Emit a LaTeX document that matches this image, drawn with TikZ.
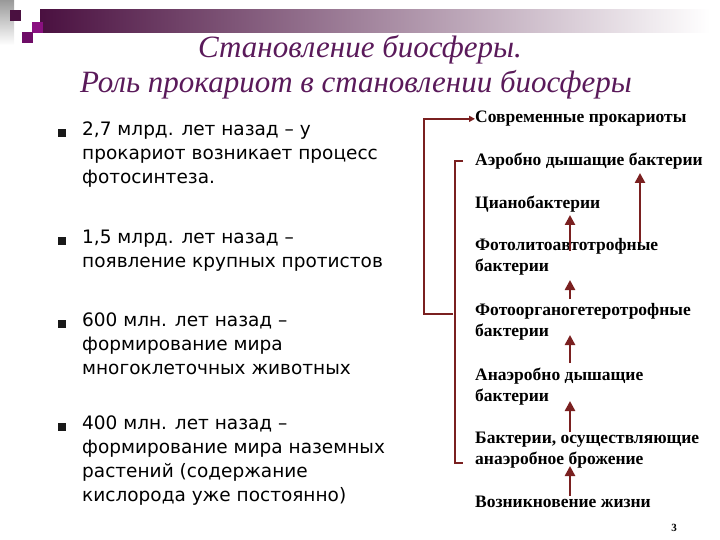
\documentclass[tikz,border=0pt]{standalone}
\usepackage{fontspec}
\setmainfont{Liberation Serif}
\newfontfamily\bodyf{DejaVu Sans}
\usetikzlibrary{arrows.meta}
\definecolor{ttl}{HTML}{5A1A5A}
\definecolor{arr}{HTML}{7A2020}
\definecolor{barc}{HTML}{4A1040}
\definecolor{mag}{HTML}{8A1080}
\begin{document}
\begin{tikzpicture}[x=1pt,y=-1pt,
  body/.style={anchor=north west,align=left,font=\bodyf\fontsize{18.5}{24}\selectfont,inner sep=0},
  bul/.style={anchor=center,fill=black!90,minimum size=8pt,inner sep=0},
  rt/.style={anchor=north west,align=left,font=\bfseries\fontsize{17.5}{21}\selectfont,inner sep=0},
  ar/.style={arr,line width=2.6pt,-{Triangle[length=10pt,width=10pt]}},
  br/.style={arr,line width=1.4pt}]
\useasboundingbox (0,0) rectangle (720,540);
% decoration
\shade[left color=barc,right color=white] (40,10) rectangle (710,33);
\shade[top color=black!40,bottom color=white] (0,0) rectangle (14,45);
\fill[barc] (10,10) rectangle (21,21);
\fill[mag] (32,22) rectangle (43,33);
\fill[mag!80!black] (22,32) rectangle (33,43);
% title
\node[font=\itshape\fontsize{31}{36}\selectfont,text=ttl] (t1) at (360,50) {Становление биосферы.};
\node[font=\itshape\fontsize{31}{36}\selectfont,text=ttl] (t2) at (356,85) {Роль прокариот в становлении биосферы};
% bullets
\node[bul] (b1) at (62,133) {};
\node[bul] (b2) at (62,241) {};
\node[bul] (b3) at (62,324) {};
\node[bul] (b4) at (62,427) {};
\node[body] (p1) at (82,122) {2,7 млрд. лет назад – у\\прокариот возникает процесс\\фотосинтеза.};
\node[body] (p2) at (82,230) {1,5 млрд. лет назад –\\появление крупных протистов};
\node[body] (p3) at (82,313) {600 млн. лет назад –\\формирование мира\\многоклеточных животных};
\node[body] (p4) at (82,416) {400 млн. лет назад –\\формирование мира наземных\\растений (содержание\\кислорода уже постоянно)};
% right column
\node[rt] (r1) at (475,111) {Современные прокариоты};
\node[rt] (r2) at (475,153) {Аэробно дышащие бактерии};
\node[rt] (r3) at (475,196) {Цианобактерии};
\node[rt] (r4) at (475,238) {Фотолитоавтотрофные\\бактерии};
\node[rt] (r5) at (475,303) {Фотоорганогетеротрофные\\бактерии};
\node[rt] (r6) at (475,368) {Анаэробно дышащие\\бактерии};
\node[rt] (r7) at (475,432) {Бактерии, осуществляющие\\анаэробное брожение};
\node[rt] (r8) at (475,496) {Возникновение жизни};
\node[font=\bfseries\fontsize{11}{12}\selectfont] (pg) at (674,528) {3};
% arrows
\draw[ar] (570,251) -- (570,215);
\draw[ar] (640,242) -- (640,173);
\draw[ar] (570,299) -- (570,280);
\draw[ar] (570,363) -- (570,335);
\draw[ar] (570,432) -- (570,401);
\draw[ar] (570,496) -- (570,466);
% brackets
\coordinate (o1) at (424,314);
\coordinate (o0) at (453,314);
\draw[br,-{Triangle[length=6pt,width=6pt]}] (o0) -- (o1) |- (r1.west);
\draw[br] (463,161) -- (455,161) -- (455,463) -- (463,463);
\end{tikzpicture}
\end{document}
